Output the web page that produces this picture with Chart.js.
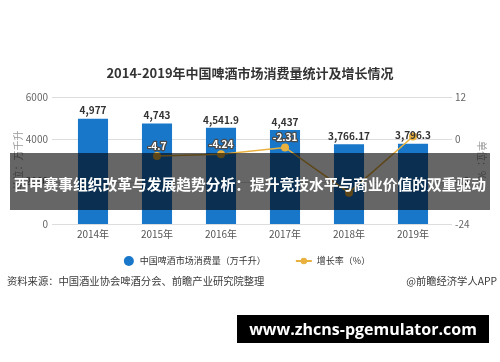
<!DOCTYPE html>
<html>
<head>
<meta charset="utf-8">
<script src="https://cdn.jsdelivr.net/npm/chart.js@4/dist/chart.umd.min.js"></script>
<style>
  html, body { margin: 0; padding: 0; background: #fff; }
  #wrap { width: 500px; height: 362px; }
</style>
</head>
<body>
<div id="wrap"><canvas id="beerChart" width="500" height="362"></canvas></div>
<script>
(function () {
  "use strict";

  /* ===== Data ===== */
  var categories = ["2014年", "2015年", "2016年", "2017年", "2018年", "2019年"];
  var consumption = [4977, 4743, 4541.9, 4437, 3766.17, 3796.3];
  var consumptionLabels = ["4,977", "4,743", "4,541.9", "4,437", "3,766.17", "3,796.3"];
  var growth = [null, -4.7, -4.24, -2.31, -15.12, 0.8];
  var growthLabels = ["", "-4.7", "-4.24", "-2.31", "", ""];
  var leftTicks = [0, 2000, 4000, 6000];
  var rightTicks = [-24, -12, 0, 12];

  var TITLE = "2014-2019年中国啤酒市场消费量统计及增长情况";
  var SERIES_BAR = "中国啤酒市场消费量（万千升）";
  var SERIES_LINE = "增长率（%）";
  var SOURCE_LEFT = "资料来源：中国酒业协会啤酒分会、前瞻产业研究院整理";
  var SOURCE_RIGHT = "@前瞻经济学人APP";
  var BANNER = "西甲赛事组织改革与发展趋势分析：提升竞技水平与商业价值的双重驱动";
  var SITE = "www.zhcns-pgemulator.com";

  /* ===== Styles ===== */
  var COLOR_BAR = "#1977c9";
  var COLOR_LINE = "#e9b13e";
  var COLOR_GRID = "#dddddd";
  var COLOR_TEXT = "#333333";
  var COLOR_TICK = "#666666";
  var FONT = '"Noto Sans CJK SC", "Noto Sans", sans-serif';

  function font(size, weight) {
    return (weight || "normal") + " " + size + "px " + FONT;
  }

  function plainTick(v) { return String(v); }

  /* ===== Custom drawing: grid, labels, title, legend, overlays ===== */
  var decorations = {
    id: "decorations",
    beforeDatasetsDraw: function (chart) {
      var ctx = chart.ctx;
      var y = chart.scales.y;
      ctx.save();
      ctx.strokeStyle = COLOR_GRID;
      ctx.lineWidth = 1;
      leftTicks.forEach(function (v) {
        var py = Math.round(y.getPixelForValue(v)) + 0.5;
        ctx.beginPath();
        ctx.moveTo(chart.chartArea.left - 9, py);
        ctx.lineTo(chart.chartArea.right + 7, py);
        ctx.stroke();
      });
      ctx.restore();
    },
    afterDatasetsDraw: function (chart) {
      var ctx = chart.ctx;
      ctx.save();
      ctx.textAlign = "center";

      // bar values
      ctx.font = font(10, "bold");
      ctx.fillStyle = COLOR_TEXT;
      ctx.textBaseline = "bottom";
      chart.getDatasetMeta(0).data.forEach(function (bar, i) {
        ctx.fillText(consumptionLabels[i], bar.x, bar.y - 3);
      });

      // growth values
      ctx.font = font(10, "bold");
      ctx.textBaseline = "middle";
      ctx.lineJoin = "round";
      chart.getDatasetMeta(1).data.forEach(function (pt, i) {
        var txt = growthLabels[i];
        if (!txt || growth[i] == null) return;
        ctx.strokeStyle = "#4a4a4a";
        ctx.lineWidth = 2.5;
        ctx.strokeText(txt, pt.x, pt.y - 10);
        ctx.fillStyle = "#ffffff";
        ctx.fillText(txt, pt.x, pt.y - 10);
      });
      ctx.restore();
    },
    afterDraw: function (chart) {
      var ctx = chart.ctx;
      ctx.save();

      // title
      ctx.font = font(13, "bold");
      ctx.fillStyle = COLOR_TEXT;
      ctx.textAlign = "center";
      ctx.textBaseline = "middle";
      ctx.fillText(TITLE, 250, 73);

      // legend
      ctx.font = font(9);
      ctx.textAlign = "left";
      var w1 = ctx.measureText(SERIES_BAR).width;
      var w2 = ctx.measureText(SERIES_LINE).width;
      var total = 10 + 6 + w1 + 30 + 16 + 5 + w2;
      var lx = 247 - total / 2;
      var ly = 261;
      ctx.fillStyle = COLOR_BAR;
      ctx.beginPath();
      ctx.arc(lx + 5, ly, 5, 0, Math.PI * 2);
      ctx.fill();
      ctx.fillStyle = COLOR_TEXT;
      ctx.fillText(SERIES_BAR, lx + 16, ly);
      var lx2 = lx + 16 + w1 + 30;
      ctx.strokeStyle = COLOR_LINE;
      ctx.lineWidth = 2;
      ctx.beginPath();
      ctx.moveTo(lx2, ly);
      ctx.lineTo(lx2 + 16, ly);
      ctx.stroke();
      ctx.fillStyle = COLOR_LINE;
      ctx.beginPath();
      ctx.arc(lx2 + 8, ly, 3.2, 0, Math.PI * 2);
      ctx.fill();
      ctx.fillStyle = COLOR_TEXT;
      ctx.fillText(SERIES_LINE, lx2 + 21, ly);

      // source line
      ctx.font = font(10.3);
      ctx.fillStyle = "#3a3a3a";
      ctx.textAlign = "left";
      ctx.fillText(SOURCE_LEFT, 7, 281);
      ctx.textAlign = "right";
      ctx.fillText(SOURCE_RIGHT, 497, 281);

      // dark banner over the chart
      ctx.fillStyle = "rgba(0, 0, 0, 0.6)";
      ctx.fillRect(10, 153, 480, 57);
      var size = 15;
      ctx.font = font(size, "bold");
      while (ctx.measureText(BANNER).width > 478 && size > 8) {
        size -= 0.25;
        ctx.font = font(size, "bold");
      }
      ctx.fillStyle = "#ffffff";
      ctx.textAlign = "center";
      ctx.fillText(BANNER, 250, 184);

      // site box at the bottom
      ctx.fillStyle = "#000000";
      ctx.fillRect(237, 315, 252, 28);
      var s2 = 17;
      var siteFont = function (s) { return "bold " + s + 'px "Open Sans", "Liberation Sans", sans-serif'; };
      ctx.font = siteFont(s2);
      while (ctx.measureText(SITE).width > 230 && s2 > 8) {
        s2 -= 0.25;
        ctx.font = siteFont(s2);
      }
      ctx.fillStyle = "#ffffff";
      ctx.fillText(SITE, 363, 330);

      ctx.restore();
    }
  };

  /* ===== Chart ===== */
  var ctx = document.getElementById("beerChart").getContext("2d");
  new Chart(ctx, {
    type: "bar",
    data: {
      labels: categories,
      datasets: [
        {
          type: "bar",
          label: SERIES_BAR,
          data: consumption,
          backgroundColor: COLOR_BAR,
          yAxisID: "y",
          categoryPercentage: 1,
          barPercentage: 0.47,
          order: 2
        },
        {
          type: "line",
          label: SERIES_LINE,
          data: growth,
          borderColor: COLOR_LINE,
          backgroundColor: COLOR_LINE,
          borderWidth: 1.5,
          pointRadius: 4,
          pointBorderWidth: 0,
          pointBackgroundColor: COLOR_LINE,
          tension: 0,
          yAxisID: "y1",
          order: 1
        }
      ]
    },
    options: {
      responsive: false,
      animation: false,
      devicePixelRatio: 1,
      layout: { padding: { top: 97, bottom: 118, left: 0, right: 0 } },
      plugins: {
        legend: { display: false },
        tooltip: { enabled: false },
        title: { display: false }
      },
      scales: {
        x: {
          grid: { display: false, drawTicks: false },
          border: { display: false },
          ticks: { color: "#555", font: { size: 10, family: FONT }, padding: 4 },
          afterFit: function (s) { s.height = 20; }
        },
        y: {
          position: "left",
          min: 0,
          max: 6000,
          afterBuildTicks: function (s) { s.ticks = leftTicks.map(function (v) { return { value: v }; }); },
          grid: { display: false, drawTicks: false },
          border: { display: false },
          ticks: { color: COLOR_TICK, font: { size: 10, family: FONT }, padding: 13, callback: plainTick },
          title: { display: true, text: "单位：万千升", color: "#999", font: { size: 10, family: FONT }, padding: { top: 12 } },
          afterFit: function (s) { s.width = 61; }
        },
        y1: {
          position: "right",
          min: -24,
          max: 12,
          afterBuildTicks: function (s) { s.ticks = rightTicks.map(function (v) { return { value: v }; }); },
          grid: { display: false, drawTicks: false },
          border: { display: false },
          ticks: { color: COLOR_TICK, font: { size: 10, family: FONT }, padding: 10, callback: plainTick },
          title: { display: true, text: "单位：%", color: "#999", font: { size: 10, family: FONT }, padding: { top: 12 } },
          afterFit: function (s) { s.width = 55; }
        }
      }
    },
    plugins: [decorations]
  });
})();
</script>
</body>
</html>
